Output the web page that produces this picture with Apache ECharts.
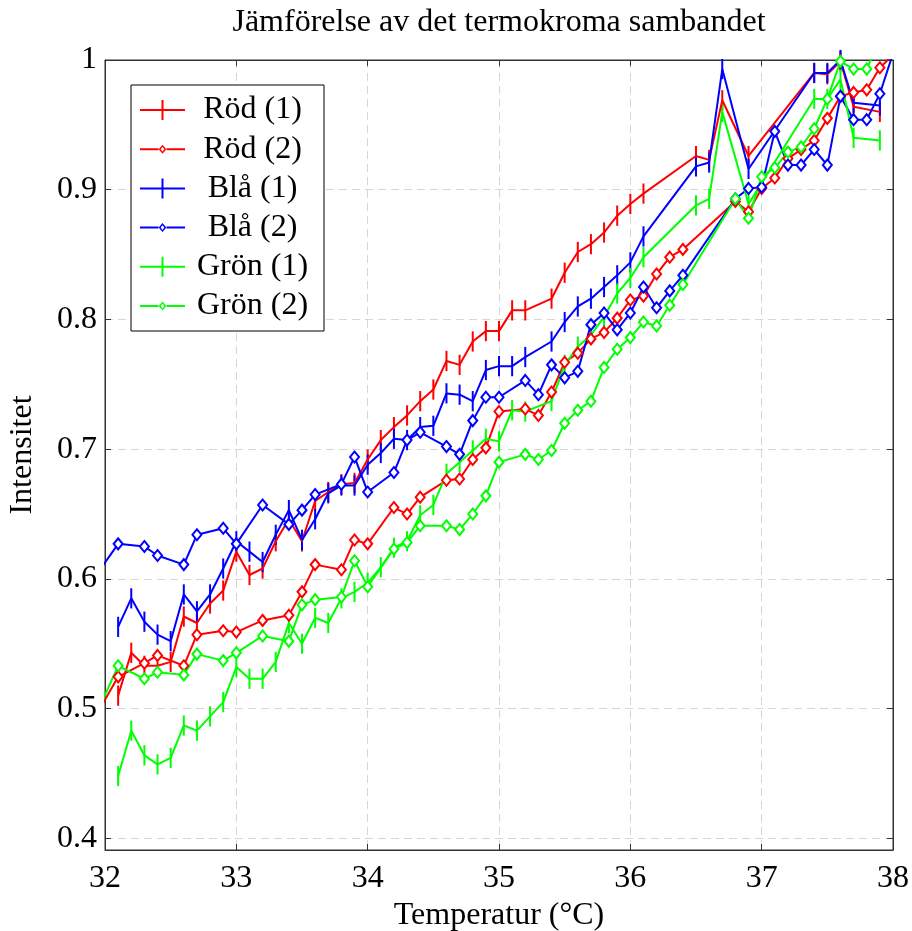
<!DOCTYPE html>
<html>
<head>
<meta charset="utf-8">
<script src="https://cdn.jsdelivr.net/npm/echarts@6/dist/echarts.min.js"></script>
<style>
html,body{margin:0;padding:0;background:#fff;}
#chart{width:912px;height:931px;}
</style>
</head>
<body>
<div id="chart"></div>
<script>
// Temperatures for the "(1)" measurements (with error bars)
var temps1 = [32.1,32.2,32.3,32.4,32.5,32.6,32.7,32.8,32.9,33.0,
              33.1,33.2,33.3,33.4,33.5,33.6,33.7,33.8,33.9,34.0,
              34.1,34.2,34.3,34.4,34.5,34.6,34.7,34.8,34.9,35.0,
              35.1,35.2,35.4,35.5,35.6,35.7,35.8,35.9,36.0,36.1,
              36.5,36.6,36.7,36.9,37.4,37.5,37.6,37.7,37.9];
var rod1  = [0.510,0.543,0.533,0.533,0.536,0.571,0.566,0.581,0.591,0.621,
             0.603,0.608,0.629,0.646,0.629,0.660,0.667,0.673,0.674,0.692,
             0.707,0.717,0.726,0.737,0.746,0.768,0.765,0.783,0.791,0.791,
             0.807,0.807,0.816,0.836,0.852,0.858,0.867,0.880,0.889,0.897,
             0.926,0.923,0.969,0.926,0.990,0.989,0.999,0.964,0.960];
var bla1  = [0.563,0.585,0.567,0.557,0.552,0.588,0.575,0.588,0.608,0.629,
             0.621,0.613,0.634,0.653,0.630,0.646,0.666,0.672,0.672,0.688,
             0.697,0.708,0.707,0.717,0.718,0.743,0.742,0.737,0.761,0.764,
             0.764,0.771,0.783,0.798,0.810,0.816,0.825,0.834,0.844,0.864,
             0.918,0.921,0.993,0.916,0.990,0.990,1.000,0.967,0.965];
var gron1 = [0.448,0.483,0.464,0.457,0.462,0.487,0.483,0.494,0.505,0.532,
             0.523,0.523,0.536,0.566,0.550,0.570,0.566,0.585,0.590,0.597,
             0.609,0.624,0.629,0.649,0.657,0.681,0.690,0.699,0.708,0.706,
             0.730,0.729,0.737,0.765,0.779,0.788,0.802,0.820,0.832,0.848,
             0.888,0.893,0.960,0.889,0.970,0.970,0.985,0.940,0.938];
var errorHalf = 0.0078;

// Temperatures for the "(2)" measurements (diamond markers)
var temps2 = [31.9,32.1,32.3,32.4,32.6,32.7,32.9,33.0,33.2,33.4,
              33.5,33.6,33.8,33.9,34.0,34.2,34.3,34.4,34.6,34.7,
              34.8,34.9,35.0,35.2,35.3,35.4,35.5,35.6,35.7,35.8,
              35.9,36.0,36.1,36.2,36.3,36.4,36.8,36.9,37.0,37.1,
              37.2,37.3,37.4,37.5,37.6,37.7,37.8,37.9,38.0];
var rod2  = [0.489,0.5245,0.535,0.541,0.533,0.557,0.560,0.559,0.568,0.572,
             0.590,0.611,0.607,0.630,0.627,0.655,0.650,0.663,0.676,0.677,
             0.692,0.701,0.729,0.731,0.726,0.744,0.767,0.774,0.785,0.790,
             0.801,0.815,0.818,0.835,0.848,0.854,0.891,0.883,0.901,0.909,
             0.924,0.931,0.938,0.955,0.972,0.975,0.977,0.994,1.004];
var bla2  = [0.598,0.627,0.625,0.618,0.611,0.634,0.639,0.627,0.657,0.642,
             0.653,0.665,0.673,0.694,0.667,0.682,0.707,0.713,0.702,0.696,
             0.722,0.740,0.740,0.753,0.742,0.765,0.755,0.760,0.796,0.805,
             0.792,0.805,0.825,0.809,0.822,0.834,0.893,0.901,0.902,0.945,
             0.919,0.919,0.931,0.919,0.972,0.954,0.954,0.974,1.005];
var gron2 = [0.488,0.533,0.523,0.528,0.526,0.542,0.537,0.543,0.556,0.552,
             0.580,0.584,0.586,0.614,0.594,0.623,0.628,0.641,0.641,0.638,
             0.650,0.664,0.690,0.696,0.692,0.699,0.720,0.730,0.737,0.763,
             0.777,0.786,0.798,0.795,0.811,0.827,0.893,0.878,0.910,0.917,
             0.929,0.933,0.947,0.970,0.999,0.993,0.993,1.016,1.030];

var xTicks = [32,33,34,35,36,37,38];
var yTickLabels = ['0.4','0.5','0.6','0.7','0.8','0.9','1'];

var FONT = 'Liberation Serif';
var FS = 32;
var AXIS_COLOR = '#333';
var GRID_COLOR = '#d6d6d6';

function pairs(xs, ys){ return xs.map(function(x,i){ return [x, ys[i]]; }); }

function lineSeries(name, xs, ys, color, withMarker){
  return {
    type:'line', name:name, data:pairs(xs, ys), color:color,
    lineStyle:{color:color, width:2},
    symbol: withMarker ? 'emptyDiamond' : 'none',
    symbolSize:[9,11], showSymbol: !!withMarker,
    itemStyle:{color:color, borderWidth:1.6},
    clip:true, animation:false, z:2
  };
}
function errSeries(name, xs, ys, color){
  return {
    type:'custom', name:name, color:color,
    data: xs.map(function(x,i){ return [x, ys[i], errorHalf]; }),
    encode:{x:0, y:1},
    renderItem:function(params, api){
      var x = api.value(0), y = api.value(1), e = api.value(2);
      var p1 = api.coord([x, y-e]), p2 = api.coord([x, y+e]);
      return {type:'line', shape:{x1:p1[0], y1:p1[1], x2:p2[0], y2:p2[1]},
              style:{stroke:color, lineWidth:2}};
    },
    clip:false, animation:false, silent:true, z:2
  };
}

var PLUS_ICON = 'path://M0,9h45v2h-45z M21.5,0h2v20h-2z';
var DIAMOND_ICON = 'path://M0,0L0.01,0Z M0,20L0.01,20Z M0,9h18.5v2h-18.5z M26.5,9h18.5v2h-18.5z M22.5,5.5L26.3,10L22.5,14.5L18.7,10Z M22.5,7.6L20.7,10L22.5,12.4L24.3,10Z';

var RED='#ff0000', BLUE='#0000ff', GREEN='#00ff00';

var series = [
  lineSeries('Röd (1)', temps1, rod1, RED, false),
  errSeries('Röd (1)', temps1, rod1, RED),
  lineSeries('Röd (2)', temps2, rod2, RED, true),
  lineSeries('Blå (1)', temps1, bla1, BLUE, false),
  errSeries('Blå (1)', temps1, bla1, BLUE),
  lineSeries('Blå (2)', temps2, bla2, BLUE, true),
  lineSeries('Grön (1)', temps1, gron1, GREEN, false),
  errSeries('Grön (1)', temps1, gron1, GREEN),
  lineSeries('Grön (2)', temps2, gron2, GREEN, true)
];

var textBase = {fontFamily:FONT, fontSize:FS, color:'#000'};

function yLabel(v){
  var r = Math.round(v*10)/10;
  if (Math.abs(v-r) > 1e-6) return '';
  var idx = Math.round((r-0.4)*10);
  return yTickLabels[idx] !== undefined ? yTickLabels[idx] : '';
}

var option = {
  animation:false,
  backgroundColor:'#fff',
  title:{
    text:'Jämförelse av det termokroma sambandet',
    left:499, top:7, textAlign:'center', padding:0,
    textStyle:{fontFamily:FONT, fontSize:FS, fontWeight:'normal', color:'#000'}
  },
  grid:{left:105, right:19, top:60, bottom:81, show:true, borderColor:AXIS_COLOR, borderWidth:1,
        backgroundColor:'transparent', containLabel:false, outerBoundsMode:'none'},
  legend:{
    orient:'vertical', left:131, top:85,
    padding:[9,9,9,9], itemWidth:45, itemHeight:20, itemGap:7.2,
    borderColor:'#000', borderWidth:1, backgroundColor:'#fff',
    itemStyle:{borderWidth:0},
    textStyle:{fontFamily:FONT, fontSize:FS, color:'#000', lineHeight:30,
      rich:{a:{fontFamily:FONT, fontSize:FS, color:'#000', width:125, align:'center', lineHeight:30}}},
    formatter:function(n){ return '{a|' + n + '}'; },
    data:[
      {name:'Röd (1)', icon:PLUS_ICON},
      {name:'Röd (2)', icon:DIAMOND_ICON},
      {name:'Blå (1)', icon:PLUS_ICON},
      {name:'Blå (2)', icon:DIAMOND_ICON},
      {name:'Grön (1)', icon:PLUS_ICON},
      {name:'Grön (2)', icon:DIAMOND_ICON}
    ],
    selectedMode:false, z:10
  },
  xAxis:[{
    type:'value', min:xTicks[0], max:xTicks[xTicks.length-1], interval:1, position:'bottom',
    name:'Temperatur (°C)', nameLocation:'middle', nameGap:45,
    nameTextStyle:textBase,
    axisLine:{show:true, lineStyle:{color:AXIS_COLOR, width:1}},
    axisTick:{show:true, inside:true, length:6, lineStyle:{color:AXIS_COLOR}},
    axisLabel:{fontFamily:FONT, fontSize:FS, color:'#000', margin:13,
      formatter:function(v){ return xTicks.indexOf(Math.round(v))>=0 ? String(Math.round(v)) : ''; }},
    splitLine:{show:true, lineStyle:{color:GRID_COLOR, type:[8,5], width:1}}
  },{
    type:'value', min:xTicks[0], max:xTicks[xTicks.length-1], interval:1, position:'top',
    axisLine:{show:true, lineStyle:{color:AXIS_COLOR, width:1}},
    axisTick:{show:true, inside:true, length:6, lineStyle:{color:AXIS_COLOR}},
    axisLabel:{show:false}, splitLine:{show:false}
  }],
  yAxis:[{
    type:'value', min:0.391, max:1.0, splitNumber:6, position:'left',
    name:'Intensitet', nameLocation:'middle', nameGap:66, nameRotate:90,
    nameTextStyle:textBase,
    axisLine:{show:true, lineStyle:{color:AXIS_COLOR, width:1}},
    axisTick:{show:true, inside:true, length:6, lineStyle:{color:AXIS_COLOR}},
    axisLabel:{fontFamily:FONT, fontSize:FS, color:'#000', margin:8, showMinLabel:false, formatter:yLabel},
    splitLine:{show:true, lineStyle:{color:GRID_COLOR, type:[8,5], width:1}}
  },{
    type:'value', min:0.391, max:1.0, splitNumber:6, position:'right',
    axisLine:{show:true, lineStyle:{color:AXIS_COLOR, width:1}},
    axisTick:{show:true, inside:true, length:6, lineStyle:{color:AXIS_COLOR}},
    axisLabel:{show:false}, splitLine:{show:false}
  }],
  series:series
};

var chart = echarts.init(document.getElementById('chart'), null, {renderer:'canvas'});
chart.setOption(option);
</script>
</body>
</html>
